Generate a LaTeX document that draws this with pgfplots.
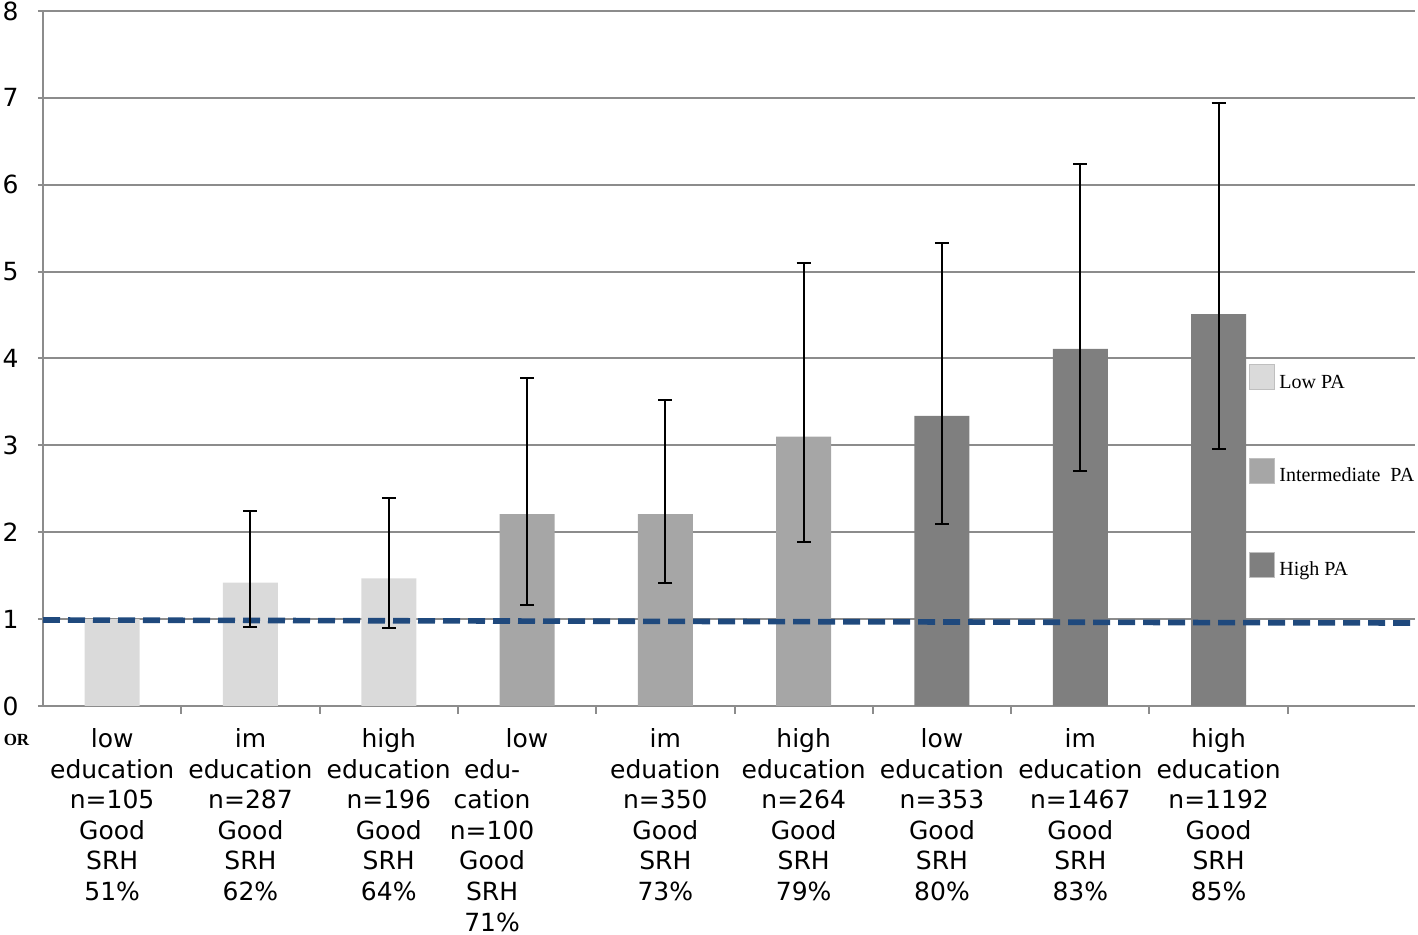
\documentclass[border=0pt]{standalone}
\usepackage{pgfplots}
\usepackage{pgfplotstable}
\pgfplotsset{compat=1.18}
\usepackage{fontspec}
\setmainfont{DejaVu Sans}
\newfontfamily\legfont{Liberation Serif}
\definecolor{lowpa}{HTML}{DADADA}
\definecolor{intpa}{HTML}{A6A6A6}
\definecolor{highpa}{HTML}{7F7F7F}
\definecolor{gridc}{HTML}{8C8C8C}
\definecolor{refblue}{RGB}{31,73,125}
\pgfplotstableread{
x y ep em
0 1.00 0 0
1 1.42 0.82 0.51
2 1.47 0.92 0.57
}\lowtab
\pgfplotstableread{
x y ep em
3 2.21 1.56 1.05
4 2.21 1.31 0.79
5 3.10 2.00 1.21
}\inttab
\pgfplotstableread{
x y ep em
6 3.34 1.99 1.25
7 4.11 2.13 1.41
8 4.51 2.43 1.55
}\hightab
\begin{document}
\begin{tikzpicture}
\begin{axis}[
  scale only axis, width=686pt, height=347.5pt,
  xmin=-0.5, xmax=9.42, ymin=0, ymax=8,
  axis x line*=bottom, axis y line*=left,
  axis line style={-, gridc, line width=1pt},
  ytick={0,...,8}, ymajorgrids, grid style={gridc, line width=1pt},
  xtick={0,...,8},
  xticklabels={
    {low\\education\\n=105\\Good\\SRH\\51\%},
    {im\\education\\n=287\\Good\\SRH\\62\%},
    {high\\education\\n=196\\Good\\SRH\\64\%},
    {low\\\hspace*{-35pt}edu-\\\hspace*{-35pt}cation\\\hspace*{-35pt}n=100\\\hspace*{-35pt}Good\\\hspace*{-35pt}SRH\\\hspace*{-35pt}71\%},
    {im\\eduation\\n=350\\Good\\SRH\\73\%},
    {high\\education\\n=264\\Good\\SRH\\79\%},
    {low\\education\\n=353\\Good\\SRH\\80\%},
    {im\\education\\n=1467\\Good\\SRH\\83\%},
    {high\\education\\n=1192\\Good\\SRH\\85\%}},
  minor xtick={0.5,1.5,...,8.5},
  major x tick style={draw=none},
  minor x tick style={gridc, line width=1pt},
  minor tick length=4pt,
  y tick style={gridc, line width=1pt},
  major tick length=2.5pt,
  tick align=outside,
  /pgf/number format/assume math mode=true,
  xticklabel style={font=\fontsize{12.5}{15.3}\selectfont, align=center, anchor=north, yshift=-5.2pt},
  yticklabel style={font=\fontsize{12.5}{15}\selectfont, inner sep=0pt, xshift=-9.5pt},
  legend style={at={(axis description cs:0.879,0.492)}, anchor=north west, draw=none, fill=none,
    font=\legfont\fontsize{10}{12}\selectfont, row sep=31.5pt, inner sep=0pt, cells={anchor=west}},
  legend image code/.code={\draw[#1, draw=gray!50, line width=0.5pt] (0pt,-3.5pt) rectangle (12.5pt,9pt);},
]
\addplot[ybar, bar width=27.5pt, bar shift=0pt, fill=lowpa, draw=none] table[x=x,y=y] {\lowtab};
\addlegendentry{Low PA}
\addplot[ybar, bar width=27.5pt, bar shift=0pt, fill=intpa, draw=none] table[x=x,y=y] {\inttab};
\addlegendentry{Intermediate~~PA}
\addplot[ybar, bar width=27.5pt, bar shift=0pt, fill=highpa, draw=none] table[x=x,y=y] {\hightab};
\addlegendentry{High PA}
\addplot[refblue, line width=2.8pt, dash pattern=on 8.5pt off 4pt, forget plot] coordinates {(-0.5,0.99) (9.42,0.955)};
\addplot[draw=none, mark=none, forget plot, skip coords between index={0}{1},
  error bars/.cd, y dir=both, y explicit,
  error bar style={black, line width=1pt},
  error mark options={rotate=90, black, mark size=3.5pt, line width=1pt}]
  table[x=x,y=y,y error plus=ep,y error minus=em] {\lowtab};
\addplot[draw=none, mark=none, forget plot,
  error bars/.cd, y dir=both, y explicit,
  error bar style={black, line width=1pt},
  error mark options={rotate=90, black, mark size=3.5pt, line width=1pt}]
  table[x=x,y=y,y error plus=ep,y error minus=em] {\inttab};
\addplot[draw=none, mark=none, forget plot,
  error bars/.cd, y dir=both, y explicit,
  error bar style={black, line width=1pt},
  error mark options={rotate=90, black, mark size=3.5pt, line width=1pt}]
  table[x=x,y=y,y error plus=ep,y error minus=em] {\hightab};
\coordinate (sw) at (rel axis cs:0,0);
\coordinate (ne) at (rel axis cs:1,1);
\end{axis}
\node[font=\legfont\bfseries\fontsize{8.5}{8.5}\selectfont] at ([shift={(-13.25pt,-17pt)}]sw) {OR};
\pgfresetboundingbox
\useasboundingbox ([shift={(-21.5pt,-114.5pt)}]sw) rectangle ([shift={(1.5pt,5.5pt)}]ne);
\end{tikzpicture}
\end{document}
